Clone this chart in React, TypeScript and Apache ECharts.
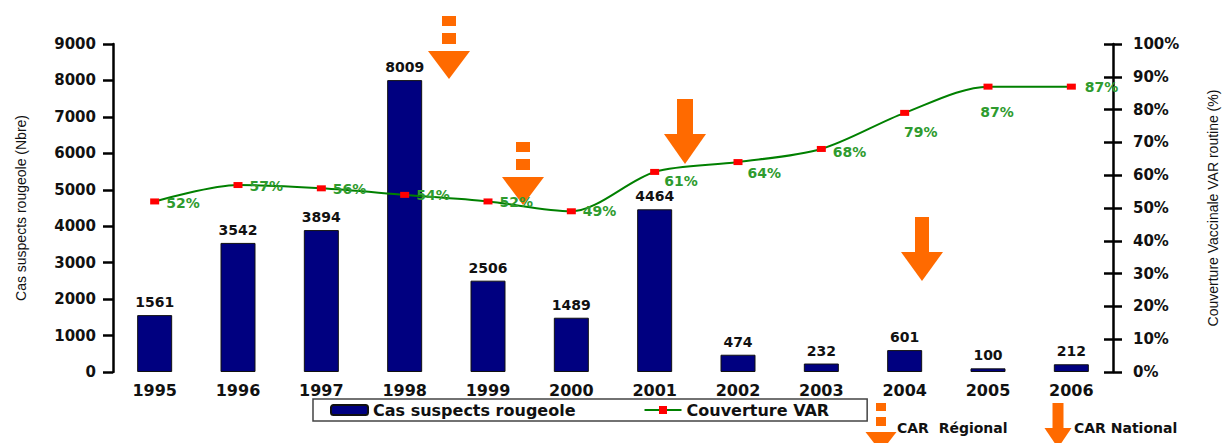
import React, { useEffect, useRef } from "react";
import * as echarts from "echarts";

const years = ["1995", "1996", "1997", "1998", "1999", "2000", "2001", "2002", "2003", "2004", "2005", "2006"];
const cases = [1561, 3542, 3894, 8009, 2506, 1489, 4464, 474, 232, 601, 100, 212];
const coverage = [52, 57, 56, 54, 52, 49, 61, 64, 68, 79, 87, 87];
const casesName = "Cas suspects rougeole";
const coverageName = "Couverture VAR";
const leftAxisTitle = "Cas suspects rougeole (Nbre)";
const rightAxisTitle = "Couverture Vaccinale VAR routine (%)";
const regionalText = "CAR  Régional";
const nationalText = "CAR National";

// label placement for coverage values (style only)
const coverageLabelLayout: { position: string; offset: [number, number] }[] = [
  { position: "right", offset: [2, 2] },
  { position: "right", offset: [2, 1] },
  { position: "right", offset: [2, 1] },
  { position: "right", offset: [2, 0] },
  { position: "right", offset: [2, 1] },
  { position: "right", offset: [2, 0] },
  { position: "right", offset: [0, 9] },
  { position: "right", offset: [0, 11] },
  { position: "right", offset: [2, 3] },
  { position: "bottom", offset: [16, 4] },
  { position: "bottom", offset: [9, 10] },
  { position: "right", offset: [4, 0] },
];

const ORANGE = "#FF6A00";
const BOLD = "'DejaVu Sans', Verdana, sans-serif";

function dashedArrow(cx: number, t: number, sq: number, w: number, h: number, sqH: number, gap: number) {
  return [
    { type: "rect", shape: { x: cx - sq / 2, y: t, width: sq, height: sqH }, style: { fill: ORANGE } },
    { type: "rect", shape: { x: cx - sq / 2, y: t + sqH + gap, width: sq, height: sqH + 1 }, style: { fill: ORANGE } },
    {
      type: "polygon",
      shape: { points: [[cx - w / 2, t + 2 * sqH + 2 * gap + 1], [cx + w / 2, t + 2 * sqH + 2 * gap + 1], [cx, t + 2 * sqH + 2 * gap + 1 + h]] },
      style: { fill: ORANGE },
    },
  ];
}

function solidArrow(cx: number, t: number, shaftW: number, shaftH: number, w: number, h: number) {
  return [
    { type: "rect", shape: { x: cx - shaftW / 2, y: t, width: shaftW, height: shaftH }, style: { fill: ORANGE } },
    { type: "polygon", shape: { points: [[cx - w / 2, t + shaftH], [cx + w / 2, t + shaftH], [cx, t + shaftH + h]] }, style: { fill: ORANGE } },
  ];
}

export default function App() {
  const ref = useRef<HTMLDivElement>(null);
  useEffect(() => {
    if (!ref.current) return;
    const chart = echarts.init(ref.current, undefined, { renderer: "svg" });
    const axisLabelStyle = { color: "#111", fontWeight: "bold", fontFamily: BOLD, fontSize: 15 };
    chart.setOption({
      animation: false,
      backgroundColor: "#ffffff",
      grid: { left: 113, right: 109, top: 44, bottom: 71, containLabel: false },
      legend: {
        left: 313,
        top: 399,
        padding: [3, 38, 3, 17],
        borderColor: "#444",
        borderWidth: 1.5,
        borderRadius: 0,
        itemWidth: 37,
        itemHeight: 10,
        itemGap: 68,
        data: [casesName, coverageName],
        textStyle: { color: "#111", fontWeight: "bold", fontFamily: BOLD, fontSize: 16 },
      },
      xAxis: {
        type: "category",
        data: years,
        axisLine: { show: false },
        axisTick: { show: false },
        axisLabel: { ...axisLabelStyle, fontSize: 16, margin: 10 },
      },
      yAxis: [
        {
          type: "value",
          min: 0,
          max: 9000,
          interval: 1000,
          position: "left",
          name: leftAxisTitle,
          nameLocation: "middle",
          nameRotate: 90,
          nameGap: 85,
          nameTextStyle: { fontFamily: "'Liberation Sans', Arial, sans-serif", fontSize: 14, color: "#111" },
          axisLine: { show: true, lineStyle: { color: "#000", width: 2.5 } },
          axisTick: { show: true, length: 10, lineStyle: { color: "#000", width: 2.5 } },
          axisLabel: { ...axisLabelStyle, margin: 17, formatter: (v: number) => String(v) },
          splitLine: { show: false },
        },
        {
          type: "value",
          min: 0,
          max: 100,
          interval: 10,
          position: "right",
          name: rightAxisTitle,
          nameLocation: "middle",
          nameRotate: 90,
          nameGap: 93,
          nameTextStyle: { fontFamily: "'Liberation Sans', Arial, sans-serif", fontSize: 14, color: "#111" },
          axisLine: { show: true, lineStyle: { color: "#000", width: 2.5 } },
          axisTick: { show: true, length: 9, lineStyle: { color: "#000", width: 2.5 } },
          axisLabel: { ...axisLabelStyle, margin: 20, formatter: "{value}%" },
          splitLine: { show: false },
        },
        {
          type: "value",
          min: 0,
          max: 100,
          interval: 10,
          position: "right",
          axisLine: { show: false },
          axisTick: { show: true, inside: true, length: 9, lineStyle: { color: "#000", width: 2.5 } },
          axisLabel: { show: false },
          splitLine: { show: false },
        },
      ],
      series: [
        {
          name: casesName,
          type: "bar",
          yAxisIndex: 0,
          data: cases,
          barWidth: 35,
          itemStyle: { color: "#000080", borderColor: "#111", borderWidth: 1 },
          label: { show: true, position: "top", distance: 6, color: "#111", fontWeight: "bold", fontFamily: BOLD, fontSize: 14 },
        },
        {
          name: coverageName,
          type: "line",
          yAxisIndex: 1,
          smooth: 0.3,
          data: coverage.map((v, i) => ({
            value: v,
            label: { position: coverageLabelLayout[i].position, offset: coverageLabelLayout[i].offset },
          })),
          symbol: "rect",
          symbolSize: [9, 6],
          itemStyle: { color: "#FF0000" },
          lineStyle: { color: "#008000", width: 2 },
          label: {
            show: true,
            formatter: "{c}%",
            color: "#2E9B2E",
            fontWeight: "bold",
            fontFamily: BOLD,
            fontSize: 14,
          },
          z: 3,
        },
      ],
      graphic: [
        ...dashedArrow(449, 16, 14, 42, 28, 10, 7),
        ...dashedArrow(523, 142, 14, 42, 28, 10, 7),
        ...solidArrow(685, 99, 16, 35, 42, 30),
        ...solidArrow(922, 217, 14, 35, 42, 29),
        ...dashedArrow(881, 403, 10, 31, 20, 8, 6),
        ...solidArrow(1058, 403, 11, 25, 27, 20),
        {
          type: "text",
          x: 897,
          y: 428,
          style: { text: regionalText, fill: "#111", font: `bold 14px ${BOLD}`, textVerticalAlign: "middle" },
        },
        {
          type: "text",
          x: 1074,
          y: 428,
          style: { text: nationalText, fill: "#111", font: `bold 14px ${BOLD}`, textVerticalAlign: "middle" },
        },
      ],
    });
    return () => chart.dispose();
  }, []);
  return <div ref={ref} style={{ position: "fixed", left: 0, top: 0, width: 1228, height: 443, background: "#fff" }} />;
}
